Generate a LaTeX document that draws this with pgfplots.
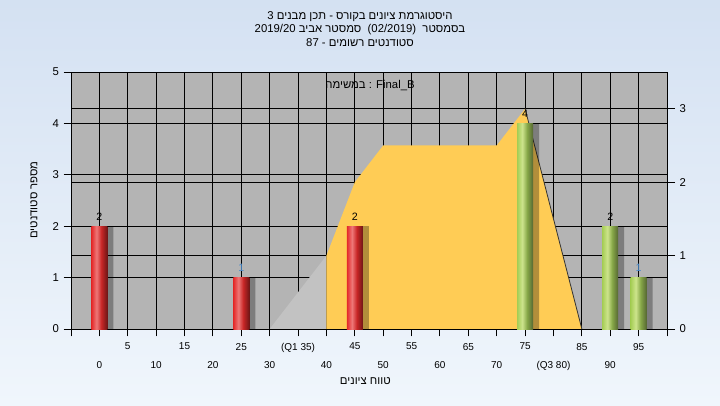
\documentclass[border=0pt]{standalone}
\usepackage{fontspec}
\setmainfont{Liberation Sans}
\newfontfamily\heb[Script=Hebrew]{Liberation Sans}
\TeXXeTstate=1
\usepackage{pgfplots}
\pgfplotsset{compat=1.18}
\definecolor{plotbg}{RGB}{180,180,180}
\definecolor{tri}{RGB}{194,194,194}
\definecolor{curve}{RGB}{255,204,85}
\definecolor{bgtop}{RGB}{212,225,242}
\definecolor{bgbot}{RGB}{240,246,252}
\definecolor{rA}{RGB}{228,40,40}
\definecolor{rB}{RGB}{238,120,120}
\definecolor{rC}{RGB}{200,38,38}
\definecolor{rD}{RGB}{110,22,22}
\definecolor{gA}{RGB}{165,205,85}
\definecolor{gB}{RGB}{205,228,140}
\definecolor{gC}{RGB}{135,168,72}
\definecolor{gD}{RGB}{85,102,50}
\definecolor{lblue}{RGB}{70,135,200}
\pgfdeclarehorizontalshading{redbar}{100bp}{color(0bp)=(rA); color(25bp)=(rA); color(41bp)=(rB); color(56bp)=(rC); color(75bp)=(rD); color(100bp)=(rD)}
\pgfdeclarehorizontalshading{greenbar}{100bp}{color(0bp)=(gA); color(25bp)=(gA); color(41bp)=(gB); color(56bp)=(gC); color(75bp)=(gD); color(100bp)=(gD)}
\pgfplotsset{myax/.style={at={(53.25pt,57pt)}, anchor=south west, scale only axis,
  width=447pt, height=192.75pt, xmin=-5, xmax=100, ymin=0, ymax=5,
  /pgf/number format/assume math mode=true},
  redb/.style={ybar, bar width=12pt, draw=none, shading=redbar},
  greenb/.style={ybar, bar width=12pt, draw=none, shading=greenbar}}
\begin{document}
\begin{tikzpicture}
\shade[top color=bgtop, bottom color=bgbot] (0,0) rectangle (540pt,303.75pt);
% background + grid
\begin{axis}[myax, axis background/.style={fill=plotbg}, axis line style={draw=none},
  xtick={-5,0,...,100}, ytick={0,...,5}, xticklabels={}, yticklabels={},
  major tick length=0pt, xmajorgrids, ymajorgrids, grid style={black, line width=0.75pt}]
\end{axis}
% right axis with distribution area
\begin{axis}[myax, ymax=3.5, axis x line=none, axis y line*=right, ytick={0,1,2,3},
  ymajorgrids, grid style={black, line width=0.75pt}, tick align=outside,
  major tick length=6pt, tick style={black, line width=0.75pt},
  axis line style={black, line width=0.75pt},
  yticklabel style={font=\fontsize{8.5}{10}\selectfont}]
\addplot[fill=tri, draw=none] coordinates {(30,0) (40,1)} \closedcycle;
\addplot[fill=curve, draw=none] coordinates {(40,0) (40,1) (45,2) (50,2.5) (70,2.5) (75,3) (85,0)} \closedcycle;
\addplot[black!80, line width=0.6pt] coordinates {(75,3) (85,0)};
\end{axis}
% bars, frame, ticks
\begin{axis}[myax, axis line style={black, line width=0.75pt},
  tick style={black, line width=0.75pt}, tick align=outside,
  major tick length=5.5pt, minor tick length=5.5pt, xtick pos=bottom, ytick pos=left,
  ytick={0,...,5},
  xtick={5,15,...,95}, xticklabels={5,15,25,(Q1 35),45,55,65,75,85,95},
  extra x ticks={0,10,...,90}, extra x tick labels={0,10,20,30,40,50,60,70,(Q3 80),90},
  extra x tick style={xticklabel style={yshift=-14pt}},
  minor xtick={-5,100},
  xticklabel style={yshift=-1.5pt},
  yticklabel style={font=\fontsize{8.5}{10}\selectfont},
  xticklabel style={font=\fontsize{7.5}{9}\selectfont}]
\addplot[ybar, bar width=12pt, bar shift=4.5pt, fill=black, fill opacity=0.3, draw=none]
  coordinates {(0,2) (25,1) (45,2) (75,4) (90,2) (95,1)};
\addplot[redb] coordinates {(0,2)};
\addplot[redb] coordinates {(25,1)};
\addplot[redb] coordinates {(45,2)};
\addplot[greenb] coordinates {(75,4)};
\addplot[greenb] coordinates {(90,2)};
\addplot[greenb] coordinates {(95,1)};
\addplot[draw=none, nodes near coords, nodes near coords style={font=\fontsize{8}{9}\selectfont, text=black, yshift=1pt}]
  coordinates {(0,2) (45,2) (75,4) (90,2)};
\addplot[draw=none, nodes near coords, nodes near coords style={font=\fontsize{8}{9}\selectfont, text=lblue, yshift=1pt}]
  coordinates {(25,1) (95,1)};
\end{axis}
% texts
\node[font=\heb\fontsize{8.5}{10}\selectfont] at (270pt,291pt) {\beginR היסטוגרמת ציונים בקורס - תכן מבנים 3\endR};
\node[font=\heb\fontsize{8.5}{10}\selectfont] at (270pt,281.25pt) {\beginR בסמסטר \ \beginL(02/2019)\endL{} \ סמסטר אביב \beginL 2019/20\endL\endR};
\node[font=\heb\fontsize{8.5}{10}\selectfont] at (270pt,271.5pt) {\beginR סטודנטים רשומים - \beginL 87\endL\endR};
\node[font=\heb\fontsize{8.5}{10}\selectfont] at (277.5pt,239.25pt) {\beginR במשימה\endR{} : Final\_B};
\node[font=\heb\fontsize{8.5}{10}\selectfont] at (274pt,18pt) {\beginR טווח ציונים\endR};
\node[font=\heb\fontsize{8.5}{10}\selectfont, rotate=90] at (25.5pt,153.75pt) {\beginR מספר סטודנטים\endR};
\end{tikzpicture}
\end{document}
